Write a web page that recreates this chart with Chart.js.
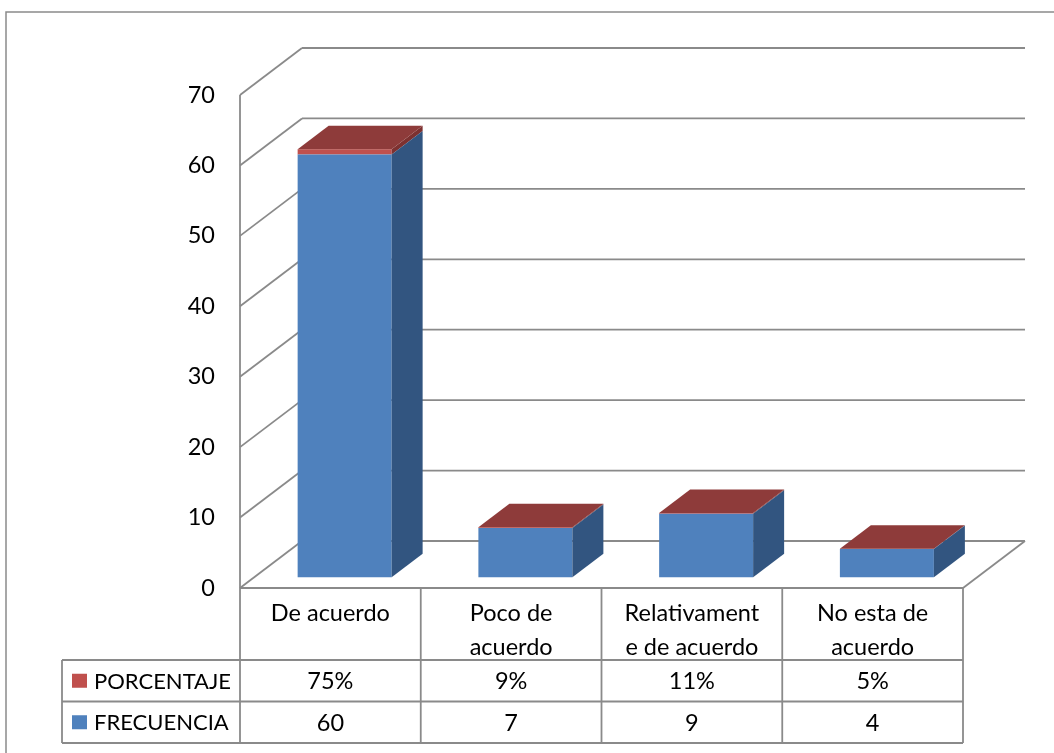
<!DOCTYPE html>
<html>
<head>
<meta charset="utf-8">
<script src="https://cdn.jsdelivr.net/npm/chart.js@4.4.1/dist/chart.umd.min.js"></script>
<style>
  html, body { margin: 0; padding: 0; background: #fff; }
  #wrap { width: 1054px; height: 753px; position: relative; }
</style>
</head>
<body>
<div id="wrap"><canvas id="chart"></canvas></div>
<script>
// data
const categories = [["De acuerdo"], ["Poco de", "acuerdo"], ["Relativament", "e de acuerdo"], ["No esta de", "acuerdo"]];
const frecuencia = [60, 7, 9, 4];
const porcentaje = [0.75, 0.09, 0.11, 0.05];
const seriesNames = ["FRECUENCIA", "PORCENTAJE"];
const yMax = 70;
const yStep = 10;

// look
const FONT = '23.5px Lato';
const LEGEND_FONT = '22px Lato';
const GRID = '#8a8a8a';
const DEPTH_X = 62, DEPTH_Y = -47;   // full depth of the 3d box
const BAR_FRONT = 0.23, BAR_DEPTH = 0.5;
const faces = [
    { front: '#4f81bd', side: '#325580', top: '#3d6596' },
    { front: '#c0504d', side: '#7d3130', top: '#8e3b3a' }
];

function line(ctx, x1, y1, x2, y2) {
    ctx.beginPath();
    ctx.moveTo(x1, y1);
    ctx.lineTo(x2, y2);
    ctx.stroke();
}

function poly(ctx, pts, color) {
    ctx.beginPath();
    ctx.moveTo(pts[0][0], pts[0][1]);
    for (let i = 1; i < pts.length; i++) ctx.lineTo(pts[i][0], pts[i][1]);
    ctx.closePath();
    ctx.fillStyle = color;
    ctx.fill();
}

const ROW1 = 72, ROW_H = 41.5, LEGEND_LEFT = 62;

const threeD = {
    id: 'threeD',
    beforeDraw(chart) {
        const ctx = chart.ctx;
        ctx.save();
        ctx.fillStyle = '#fff';
        ctx.fillRect(0, 0, chart.width, chart.height);
        ctx.strokeStyle = GRID;
        ctx.lineWidth = 1.5;
        ctx.strokeRect(6, 12, chart.width + 20, chart.height + 20);
        ctx.restore();
    },
    beforeDatasetsDraw(chart) {
        const ctx = chart.ctx;
        const a = chart.chartArea;
        const y = chart.scales.y;
        const x = chart.scales.x;
        ctx.save();
        ctx.strokeStyle = GRID;
        ctx.lineWidth = 1.8;
        y.ticks.forEach(t => {
            const py = y.getPixelForValue(t.value);
            line(ctx, a.left, py, a.left + DEPTH_X, py + DEPTH_Y);
            line(ctx, a.left + DEPTH_X, py + DEPTH_Y, a.right + DEPTH_X, py + DEPTH_Y);
        });
        // floor
        line(ctx, a.left, a.bottom, a.right, a.bottom);
        line(ctx, a.right, a.bottom, a.right + DEPTH_X, a.bottom + DEPTH_Y);
        // data table grid
        const tBottom = a.bottom + ROW1 + 2 * ROW_H;
        line(ctx, a.left, a.top, a.left, tBottom);
        const half = (x.getPixelForValue(1) - x.getPixelForValue(0)) / 2;
        categories.forEach((c, i) => {
            const px = x.getPixelForValue(i) + half;
            line(ctx, px, a.bottom, px, tBottom);
        });
        for (let r = 0; r < 3; r++) {
            const py = a.bottom + ROW1 + r * ROW_H;
            line(ctx, LEGEND_LEFT, py, a.right, py);
        }
        line(ctx, LEGEND_LEFT, a.bottom + ROW1, LEGEND_LEFT, tBottom);
        ctx.restore();
    },
    beforeDatasetDraw(chart) {
        chart.ctx.save();
        chart.ctx.translate(DEPTH_X * BAR_FRONT, DEPTH_Y * BAR_FRONT);
    },
    afterDatasetDraw(chart, args) {
        const ctx = chart.ctx;
        const bx = DEPTH_X * BAR_DEPTH, by = DEPTH_Y * BAR_DEPTH;
        const f = faces[args.index];
        const isTop = args.index === chart.data.datasets.length - 1;
        args.meta.data.forEach(el => {
            const xl = el.x - el.width / 2, xr = el.x + el.width / 2;
            poly(ctx, [[xr, el.y], [xr + bx, el.y + by], [xr + bx, el.base + by], [xr, el.base]], f.side);
            if (isTop) {
                poly(ctx, [[xl, el.y], [xl + bx, el.y + by], [xr + bx, el.y + by], [xr, el.y]], f.top);
            }
        });
        ctx.restore();
    },
    afterDraw(chart) {
        const ctx = chart.ctx;
        const a = chart.chartArea;
        const x = chart.scales.x;
        ctx.save();
        ctx.font = FONT;
        ctx.fillStyle = '#000';
        ctx.textAlign = 'center';
        ctx.textBaseline = 'middle';
        categories.forEach((lines, i) => {
            const px = x.getPixelForValue(i);
            lines.forEach((s, j) => ctx.fillText(s, px, a.bottom + 25 + j * 34));
        });
        const rows = [
            { name: seriesNames[1], color: faces[1].front, vals: porcentaje.map(v => Math.round(v * 100) + '%') },
            { name: seriesNames[0], color: faces[0].front, vals: frecuencia.map(v => String(v)) }
        ];
        rows.forEach((r, k) => {
            const cy = a.bottom + ROW1 + k * ROW_H + ROW_H / 2;
            ctx.fillStyle = r.color;
            ctx.fillRect(LEGEND_LEFT + 10, cy - 7, 15, 14);
            ctx.fillStyle = '#000';
            ctx.textAlign = 'left';
            ctx.font = LEGEND_FONT;
            ctx.fillText(r.name, LEGEND_LEFT + 32, cy + 1);
            ctx.textAlign = 'center';
            ctx.font = FONT;
            r.vals.forEach((v, i) => ctx.fillText(v, x.getPixelForValue(i), cy + 1));
        });
        ctx.restore();
    }
};

new Chart(document.getElementById('chart'), {
    type: 'bar',
    data: {
        labels: categories,
        datasets: [
            { label: seriesNames[0], data: frecuencia, backgroundColor: faces[0].front },
            { label: seriesNames[1], data: porcentaje, backgroundColor: faces[1].front }
        ]
    },
    options: {
        responsive: true,
        maintainAspectRatio: false,
        animation: false,
        layout: { padding: { left: 0, right: 91, top: 95, bottom: 165 } },
        datasets: { bar: { categoryPercentage: 1, barPercentage: 0.52, clip: false } },
        plugins: { legend: { display: false }, tooltip: { enabled: false } },
        scales: {
            x: { stacked: true, display: false },
            y: {
                stacked: true,
                min: 0,
                max: yMax,
                grid: { display: false, drawTicks: false },
                border: { display: false },
                ticks: { stepSize: yStep, color: '#000', font: { family: 'Lato', size: 23.5 }, padding: 25 },
                afterFit: s => { s.width = 240; }
            }
        }
    },
    plugins: [threeD]
});
</script>
</body>
</html>
